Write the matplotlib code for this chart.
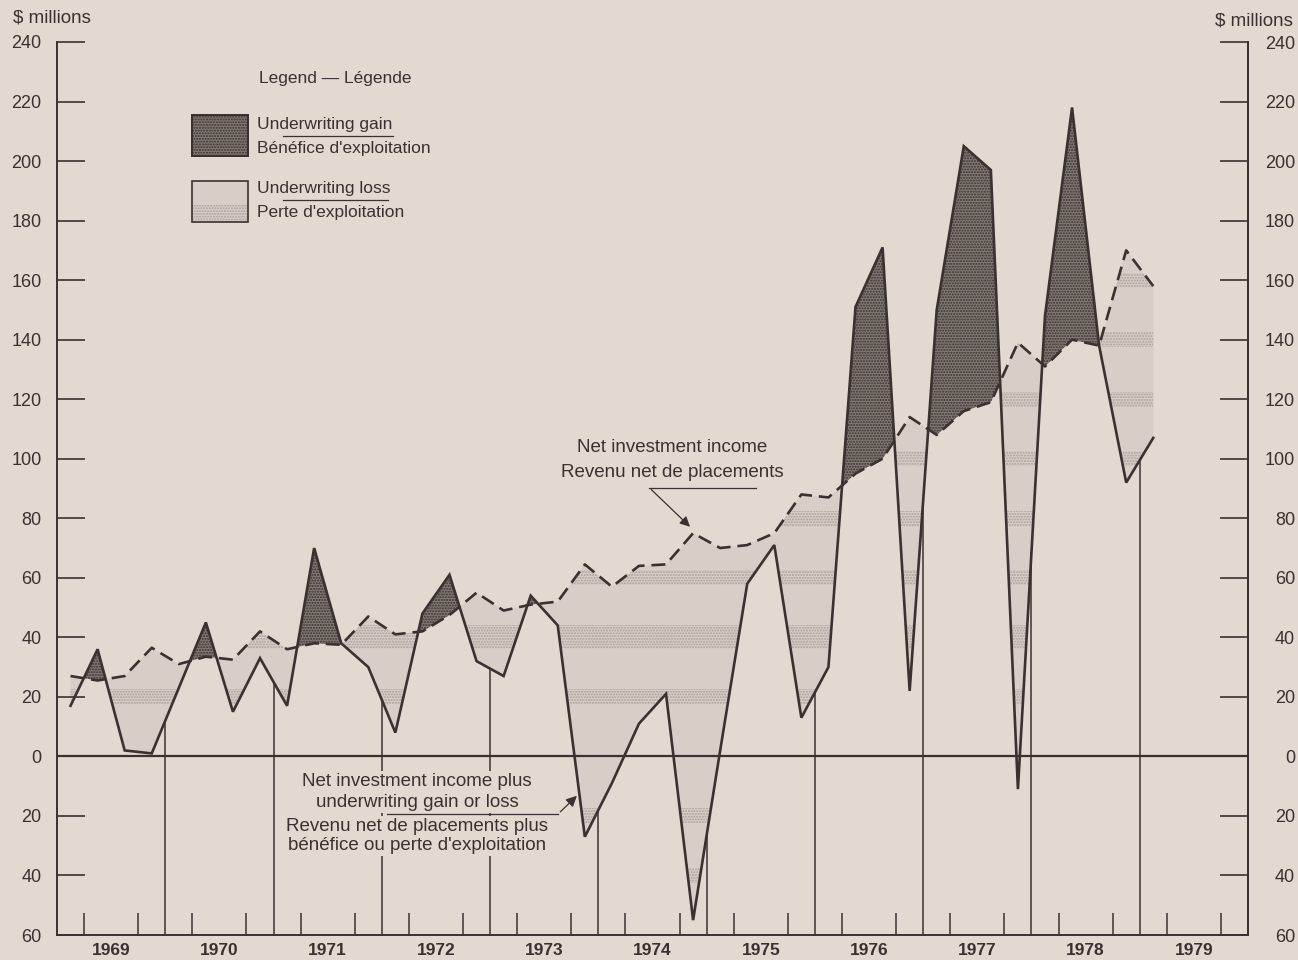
import numpy as np
import matplotlib.pyplot as plt
from matplotlib.patches import Rectangle
from matplotlib.path import Path

plt.rcParams['font.family'] = ['Liberation Sans', 'DejaVu Sans']
plt.rcParams['hatch.linewidth'] = 1.0

# quarterly data, 1969 Q1 .. 1979 Q1 ($ millions)
first_year = 1969
n_quarters = 41
# net investment income plus underwriting gain or loss (solid line)
total = np.array([17, 36, 2, 1, 23, 45, 15, 33, 17, 70, 38, 30, 8, 48, 61, 32,
                  27, 54, 44, -27, -9, 11, 21, -55, 2, 58, 71, 13, 30, 151, 171, 22,
                  150, 205, 197, -11, 148, 218, 138, 92, 107])
# net investment income (dashed line)
nii = np.array([27, 25.5, 27, 36.5, 31, 33.5, 32.5, 42, 36, 38, 37.5, 47, 41, 42, 47.5, 55,
                49, 51, 52, 64.5, 57, 64, 64.5, 75, 70, 71, 75, 88, 87, 95, 100, 114,
                108, 116, 119, 139, 131, 140, 138, 170, 158])
year_labels = [str(y) for y in range(1969, 1980)]
ytick_vals = list(range(-60, 241, 20))

bg = '#e2d9d0'
ink = '#3a3230'
loss_c = '#d6cec7'
gain_c = '#807974'

xq = first_year + (np.arange(n_quarters) + 0.5) / 4.0

fig = plt.figure(figsize=(12.98, 9.6), dpi=100)
fig.patch.set_facecolor(bg)
ax = fig.add_axes([57 / 1298, 25 / 960, 1191 / 1298, 893 / 960])
ax.set_facecolor(bg)
ax.set_xlim(1969, 1980)
ax.set_ylim(-60, 240)

# loss area (total below investment income)
loss = ax.fill_between(xq, total, nii, where=total < nii, interpolate=True,
                       facecolor=loss_c, linewidth=0, zorder=1)
clip = Path.make_compound_path(*loss.get_paths())
for lev in [-40, -20] + list(range(20, 241, 20)):
    hw = 4 if lev == 40 else 2.5
    band = Rectangle((1969, lev - hw), 11, 2 * hw, facecolor='none', edgecolor='#a8a099',
                     hatch='......', linewidth=0, zorder=1.5)
    ax.add_patch(band)
    band.set_clip_path(clip, ax.transData)

# gain area
ax.fill_between(xq, total, nii, where=total > nii, interpolate=True,
                facecolor=gain_c, edgecolor='#3a3330', hatch='......', linewidth=0, zorder=2)

ax.axhline(0, color=ink, lw=1.6, zorder=2.6)

# drop lines at year boundaries
yb = np.arange(1970, 1980)
ax.vlines(yb, -60, np.interp(yb, xq, total), color=ink, lw=1.1, zorder=2.5)

ax.plot(xq, total, color=ink, lw=1.9, zorder=4, solid_joinstyle='miter')
ax.plot(xq, nii, color=ink, lw=1.9, dashes=(5.3, 2.6), zorder=4)

for s in ['left', 'right', 'bottom']:
    ax.spines[s].set_color(ink)
    ax.spines[s].set_linewidth(1.4)
ax.spines['top'].set_visible(False)

# x axis: year labels, quarter ticks
ax.set_xticks(np.arange(1969, 1980) + 0.5)
ax.set_xticklabels(year_labels, fontsize=12.5, fontweight='bold', color=ink)
ax.tick_params(axis='x', which='major', length=0, pad=6)
qt = [y + q / 4 for y in range(1969, 1980) for q in (1, 2, 3)]
ax.set_xticks(qt, minor=True)
ax.tick_params(axis='x', which='minor', direction='in', length=16, width=1.1, color=ink)

fmt = lambda v, p: str(abs(int(v)))
ax.set_yticks(ytick_vals)
ax.yaxis.set_major_formatter(plt.FuncFormatter(fmt))
ax.tick_params(axis='y', direction='in', length=20, width=1.2, color=ink,
               labelsize=13, labelcolor=ink, pad=11)

ax2 = ax.twinx()
ax2.set_ylim(-60, 240)
ax2.set_yticks(ytick_vals)
ax2.yaxis.set_major_formatter(plt.FuncFormatter(fmt))
ax2.tick_params(axis='y', direction='in', length=20, width=1.2, color=ink,
                labelsize=13, labelcolor=ink, pad=34)
for t in ax2.yaxis.get_major_ticks():
    t.label2.set_horizontalalignment('right')
for s in ['left', 'top', 'bottom']:
    ax2.spines[s].set_visible(False)
ax2.spines['right'].set_color(ink)
ax2.spines['right'].set_linewidth(1.4)

# annotations
tb = dict(facecolor=bg, edgecolor='none', pad=1.5)
ax.text(1974.68, 103.7, 'Net investment income', ha='center', va='center',
        fontsize=13.5, color=ink, zorder=6)
ax.text(1974.68, 95.3, 'Revenu net de placements', ha='center', va='center',
        fontsize=13.5, color=ink, zorder=6)
ax.plot([1974.47, 1975.46], [90.3, 90.3], color=ink, lw=0.9, zorder=6)
ax.annotate('', xy=(1974.865, 76.5), xytext=(1974.47, 90.3),
            arrowprops=dict(arrowstyle='-|>', color=ink, lw=0.9, mutation_scale=15), zorder=6)

ax.text(1972.325, -12.0, 'Net investment income plus\nunderwriting gain or loss',
        ha='center', va='center', fontsize=13.5, color=ink, linespacing=1.3, bbox=tb, zorder=6)
ax.text(1972.325, -26.6, 'Revenu net de placements plus\nbénéfice ou perte d\'exploitation',
        ha='center', va='center', fontsize=13.5, color=ink, linespacing=1.15, bbox=tb, zorder=6)
ax.plot([1972.05, 1973.63], [-19.3, -19.3], color=ink, lw=0.9, zorder=7)
ax.annotate('', xy=(1973.82, -12.6), xytext=(1973.63, -19.3),
            arrowprops=dict(arrowstyle='-|>', color=ink, lw=0.9, mutation_scale=16), zorder=7)

# overlay in pixel coordinates for legend and unit labels
ov = fig.add_axes([0, 0, 1, 1], zorder=5)
ov.set_xlim(0, 1298)
ov.set_ylim(960, 0)
ov.axis('off')
ov.patch.set_alpha(0)

ov.text(52, 18, '$ millions', ha='center', va='center', fontsize=13.5, color=ink)
ov.text(1254, 21, '$ millions', ha='center', va='center', fontsize=13.5, color=ink)

ov.text(335, 79, 'Legend — Légende', ha='center', va='center', fontsize=12.5, color=ink)
ov.add_patch(Rectangle((192, 115), 56, 41, facecolor=gain_c, edgecolor='#3a3330',
                       hatch='......', linewidth=1.2))
ov.add_patch(Rectangle((192, 115), 56, 41, facecolor='none', edgecolor=ink, linewidth=1.4))
ov.text(257, 125, 'Underwriting gain', ha='left', va='center', fontsize=12.5, color=ink)
ov.text(257, 148, "Bénéfice d'exploitation", ha='left', va='center', fontsize=12.5, color=ink)
ov.plot([283, 393], [136, 136], color=ink, lw=0.9)

ov.add_patch(Rectangle((192, 181), 56, 41, facecolor=loss_c, edgecolor='none'))
ov.add_patch(Rectangle((192, 205), 56, 17, facecolor='none', edgecolor='#a8a099',
                       hatch='......', linewidth=0))
ov.add_patch(Rectangle((192, 181), 56, 41, facecolor='none', edgecolor=ink, linewidth=1.2))
ov.text(257, 189, 'Underwriting loss', ha='left', va='center', fontsize=12.5, color=ink)
ov.text(257, 213, "Perte d'exploitation", ha='left', va='center', fontsize=12.5, color=ink)
ov.plot([283, 388], [200, 200], color=ink, lw=0.9)

fig.savefig('out.png', dpi=100, facecolor=bg)
